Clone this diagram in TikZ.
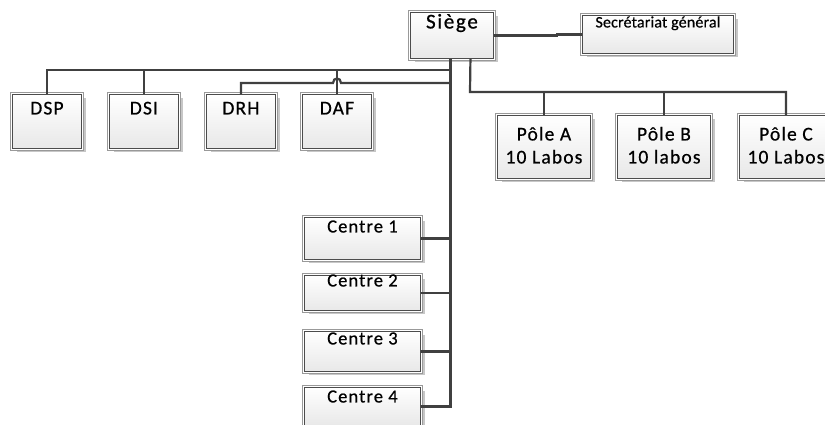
\documentclass[tikz,border=0pt]{standalone}
\usepackage{fontspec}
\setmainfont{Carlito}
\newfontfamily\orgfont{Carlito}[LetterSpace=6, FakeBold=0.6]
\newfontfamily\siegefont{Carlito}[LetterSpace=8, FakeBold=0.8]
\newfontfamily\sgfont{Carlito}[LetterSpace=1, FakeBold=0.5]
\usetikzlibrary{shadows}
\begin{document}
\begin{tikzpicture}[x=1pt, y=-1pt,
  box/.style={anchor=north west, inner sep=0pt, minimum width=#1,
    general shadow={shadow xshift=5pt, shadow yshift=-4pt, fill=black!22},
    preaction={draw=black!40, line width=4.4pt},
    preaction={draw=white, line width=2.6pt},
    top color=white, bottom color=black!9, draw=black!70, line width=0.9pt,
    font=\orgfont\fontsize{19.5}{23}\selectfont},
  link/.style={draw=black!75, line width=2.2pt}]
  \useasboundingbox (0,0) rectangle (825,425);
  \clip (0,0) rectangle (825,425);
  \node[box=83, text height=16pt, text depth=30pt, font=\siegefont\fontsize{21}{24}\selectfont] (siege) at (410,12) {Siège};
  \node[box=151, text height=12pt, text depth=26pt, font=\sgfont\fontsize{16}{19}\selectfont] (sg) at (582,15) {Secrétariat général};
  \node[box=69, text height=20pt, text depth=34pt] (dsp) at (12,94) {DSP};
  \node[box=69, text height=20pt, text depth=34pt] (dsi) at (109,94) {DSI};
  \node[box=69, text height=20pt, text depth=34pt] (drh) at (206,94) {DRH};
  \node[box=69, text height=20pt, text depth=34pt] (daf) at (302,94) {DAF};
  \node[box=93, text height=25pt, text depth=38pt] (pa) at (497,115) {\begin{tabular}[t]{@{}c@{}}Pôle A\\10 Labos\end{tabular}};
  \node[box=93, text height=25pt, text depth=38pt] (pb) at (617,115) {\begin{tabular}[t]{@{}c@{}}Pôle B\\10 labos\end{tabular}};
  \node[box=93, text height=25pt, text depth=38pt] (pc) at (739,115) {\begin{tabular}[t]{@{}c@{}}Pôle C\\10 Labos\end{tabular}};
  \node[box=116, text height=15pt, text depth=27pt, font=\orgfont\fontsize{18.5}{22}\selectfont] (c1) at (304,217) {Centre 1};
  \node[box=116, text height=11pt, text depth=24pt, font=\orgfont\fontsize{18.5}{22}\selectfont] (c2) at (304,275) {Centre 2};
  \node[box=116, text height=13pt, text depth=27pt, font=\orgfont\fontsize{18.5}{22}\selectfont] (c3) at (304,331) {Centre 3};
  \node[box=116, text height=15pt, text depth=23pt, font=\orgfont\fontsize{18.5}{22}\selectfont] (c4) at (304,387) {Centre 4};
  \coordinate (t1) at ([xshift=-1.5pt]siege.south);
  \coordinate (t2) at ([xshift=18.5pt]siege.south);
  \coordinate (busL) at (450,70);
  \coordinate (hopL) at (333,83);
  \coordinate (hopR) at (341,83);
  \coordinate (busR) at (470,92);
  \draw[link] (siege.east) -- ++(63,0) |- (sg.west);
  \draw[link] (t1) |- (c4.east);
  \draw[link] (c1.east) -- (c1.east -| t1);
  \draw[link] (c2.east) -- (c2.east -| t1);
  \draw[link] (c3.east) -- (c3.east -| t1);
  \draw[link] (dsp.north) |- (busL);
  \draw[link] (dsi.north) -- (dsi.north |- busL);
  \draw[link] (daf.north) -- (daf.north |- busL);
  \draw[link] (drh.north) |- (hopL) .. controls +(0,-6) and +(0,-6) .. (hopR) -- (hopR -| t1);
  \draw[link] (t2) -- (busR) -| (pc.north);
  \draw[link] (pa.north) -- (pa.north |- busR);
  \draw[link] (pb.north) -- (pb.north |- busR);
\end{tikzpicture}
\end{document}
